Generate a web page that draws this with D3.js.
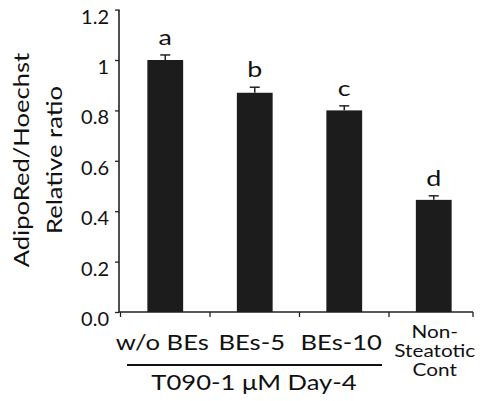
<!DOCTYPE html>
<html><head><meta charset="utf-8">
<script src="https://cdn.jsdelivr.net/npm/d3@7"></script>
<style>html,body{margin:0;padding:0;background:#fff;}svg{display:block;font-family:Lato,"Open Sans",sans-serif;}</style>
</head><body>
<script>
const categories = ["w/o BEs", "BEs-5", "BEs-10", "Non-Steatotic Cont"];
const values = [1.0, 0.87, 0.80, 0.445];
const errors = [0.02, 0.022, 0.018, 0.016];
const letters = ["a", "b", "c", "d"];
const yTicks = [0, 0.2, 0.4, 0.6, 0.8, 1.0, 1.2];
const yTickLabels = ["0.0", "0.2", "0.4", "0.6", "0.8", "1", "1.2"];
const lastLabelLines = ["Non-", "Steatotic", "Cont"];
const groupLabel = "T090-1 \u03bcM Day-4";
const yTitle = ["AdipoRed/Hoechst", "Relative ratio"];

const W = 480, H = 401;
const svg = d3.select("body").append("svg").attr("width", W).attr("height", H);
const x = d3.scaleBand().domain(categories).range([120.5, 478.5]).padding(0);
const y = d3.scaleLinear().domain([0, 1.2]).range([312, 9.6]);
const ink = "#222";
const txt = "#111";
const stretch = 1.22;
const barW = x.bandwidth() * 0.4;
const cx = i => x(categories[i]) + x.bandwidth() / 2;

// y axis
const ya = svg.append("g").attr("transform", "translate(119,0)")
  .call(d3.axisLeft(y).tickValues(yTicks).tickFormat((d, i) => yTickLabels[i]).tickSize(4).tickSizeOuter(0));
ya.select(".domain").attr("stroke", ink).attr("stroke-width", 1.6).attr("d", `M0,${y(1.2)}V${y(0)}`);
ya.selectAll(".tick line").attr("stroke", ink).attr("stroke-width", 1.3);
ya.selectAll(".tick text").attr("font-size", 20).attr("fill", txt).attr("x", -10).attr("y", 7)
  .attr("font-family", "Lato, sans-serif");

// x axis with ticks at group boundaries
const bounds = categories.map(c => x(c)).concat([473]);
svg.append("line").attr("x1", 119).attr("x2", 473).attr("y1", y(0)).attr("y2", y(0)).attr("stroke", ink).attr("stroke-width", 1.6);
svg.selectAll(".xt").data(bounds).join("line").attr("class", "xt")
  .attr("x1", d => d).attr("x2", d => d).attr("y1", y(0)).attr("y2", y(0) + 5).attr("stroke", ink).attr("stroke-width", 1.3);

// bars
svg.selectAll(".bar").data(values).join("rect").attr("class", "bar")
  .attr("x", (d, i) => cx(i) - barW / 2).attr("width", barW)
  .attr("y", d => y(d)).attr("height", d => y(0) - y(d)).attr("fill", "#1c1c1c");

// error bars
svg.selectAll(".err").data(values).join("line").attr("class", "err")
  .attr("x1", (d, i) => cx(i)).attr("x2", (d, i) => cx(i))
  .attr("y1", d => y(d)).attr("y2", (d, i) => y(d + errors[i])).attr("stroke", ink).attr("stroke-width", 1.5);
svg.selectAll(".cap").data(values).join("line").attr("class", "cap")
  .attr("x1", (d, i) => cx(i) - 5).attr("x2", (d, i) => cx(i) + 5)
  .attr("y1", (d, i) => y(d + errors[i])).attr("y2", (d, i) => y(d + errors[i])).attr("stroke", ink).attr("stroke-width", 1.5);

// significance letters
svg.selectAll(".let").data(letters).join("text").attr("class", "let")
  .attr("transform", (d, i) => `translate(${cx(i)},${y(values[i] + errors[i]) - 10}) scale(${stretch},1)`)
  .attr("text-anchor", "middle").attr("font-size", 22).attr("fill", txt).text(d => d);

// category labels
const main = categories.slice(0, 3);
svg.selectAll(".cat").data(main).join("text").attr("class", "cat")
  .attr("transform", (d, i) => `translate(${cx(i) - 3},350) scale(${stretch},1)`)
  .attr("text-anchor", "middle").attr("font-size", 21).attr("fill", txt).text(d => d);
const last = svg.append("text").attr("transform", `translate(${cx(3) + 1},0) scale(${stretch},1)`)
  .attr("text-anchor", "middle").attr("font-size", 17).attr("fill", txt);
lastLabelLines.forEach((t, i) => last.append("tspan").attr("x", 0).attr("y", 338 + i * 19).text(t));

// group line and label
svg.append("line").attr("x1", 127).attr("x2", 382).attr("y1", 365).attr("y2", 365).attr("stroke", txt).attr("stroke-width", 2);
svg.append("text").attr("transform", `translate(254,390) scale(${stretch},1)`).attr("text-anchor", "middle")
  .attr("font-size", 21).attr("fill", txt).text(groupLabel);

// y title
const yt = svg.append("text").attr("transform", `translate(0,160) rotate(-90) scale(${stretch},1)`).attr("text-anchor", "middle")
  .attr("font-size", 21).attr("fill", txt);
yt.append("tspan").attr("x", 0).attr("y", 29).text(yTitle[0]);
yt.append("tspan").attr("x", 0).attr("y", 62).text(yTitle[1]);
</script>
</body></html>
